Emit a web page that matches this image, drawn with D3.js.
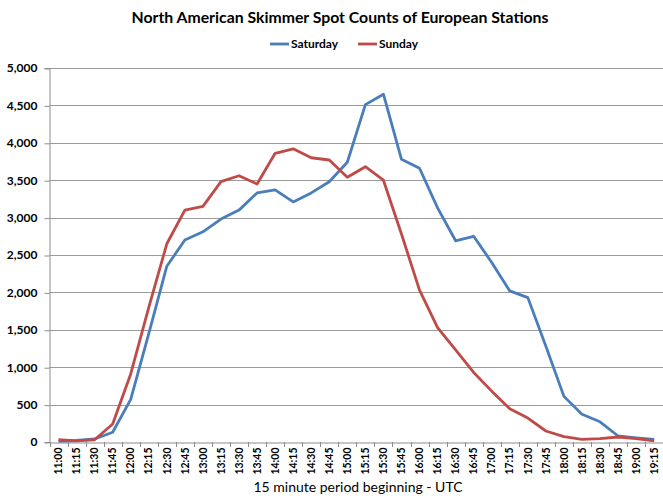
<!DOCTYPE html>
<html lang="en">
<head>
<meta charset="UTF-8">
<title>North American Skimmer Spot Counts of European Stations</title>
<script src="https://d3js.org/d3.v7.min.js"></script>
<style>
  body { margin: 0; background: #fff; }
  text { font-family: Lato, "Open Sans", sans-serif; fill: #000; }
</style>
</head>
<body>
<script>
// data
const times = ["11:00","11:15","11:30","11:45","12:00","12:15","12:30","12:45","13:00","13:15","13:30","13:45",
  "14:00","14:15","14:30","14:45","15:00","15:15","15:30","15:45","16:00","16:15","16:30","16:45",
  "17:00","17:15","17:30","17:45","18:00","18:15","18:30","18:45","19:00","19:15"];
const saturday = [10, 20, 40, 130, 570, 1450, 2350, 2700, 2810, 2980, 3100, 3330,
  3370, 3210, 3330, 3480, 3740, 4510, 4650, 3780, 3660, 3130, 2690, 2750,
  2400, 2020, 1930, 1280, 610, 370, 270, 80, 55, 35];
const sunday = [30, 15, 30, 240, 910, 1800, 2650, 3100, 3150, 3480, 3560, 3450,
  3860, 3920, 3800, 3770, 3540, 3680, 3500, 2780, 2030, 1530, 1230, 930,
  680, 445, 320, 147, 71, 36, 44, 67, 44, 15];
const yTicks = [0, 500, 1000, 1500, 2000, 2500, 3000, 3500, 4000, 4500, 5000];

const width = 663, height = 496;
const plotLeft = 49.5, plotTop = 68, plotBottom = 442;
const band = 18.05;

const svg = d3.select("body").append("svg")
  .attr("width", width)
  .attr("height", height);

const x = d3.scaleBand().domain(times).range([plotLeft, plotLeft + band * times.length]).padding(0);
const y = d3.scaleLinear().domain([0, 5000]).range([plotBottom, plotTop]);

// gridlines
svg.append("g").selectAll("line")
  .data(yTicks.slice(1))
  .enter().append("line")
  .attr("x1", plotLeft).attr("x2", width)
  .attr("y1", d => Math.round(y(d)) + 0.5).attr("y2", d => Math.round(y(d)) + 0.5)
  .attr("stroke", "#9a9a9a").attr("stroke-width", 1);

// y axis
const yAxis = svg.append("g")
  .attr("transform", "translate(" + plotLeft + ",0)")
  .call(d3.axisLeft(y).tickValues(yTicks).tickFormat(d3.format(",")).tickSize(5).tickPadding(7));
yAxis.select(".domain").attr("stroke", "#8c8c8c");
yAxis.selectAll(".tick line").attr("stroke", "#8c8c8c").attr("transform", "translate(0,0.5)");
yAxis.selectAll("text").style("font-size", "12px").style("font-weight", "bold").attr("font-family", null);

// x axis
const xAxis = svg.append("g")
  .attr("transform", "translate(0," + (plotBottom + 0.5) + ")")
  .call(d3.axisBottom(x).tickSize(0).tickSizeOuter(0));
xAxis.select(".domain").attr("stroke", "#8c8c8c");
xAxis.selectAll(".tick line").remove();
xAxis.selectAll("text")
  .attr("transform", "rotate(-90)")
  .attr("x", -5).attr("y", 0).attr("dy", "0.35em")
  .style("text-anchor", "end")
  .style("font-size", "10.5px")
  .style("font-weight", "bold")
  .attr("font-family", null);
// tick marks between categories
svg.append("g").selectAll("line")
  .data(times)
  .enter().append("line")
  .attr("x1", d => Math.round(x(d)) + 0.5).attr("x2", d => Math.round(x(d)) + 0.5)
  .attr("y1", plotBottom).attr("y2", plotBottom + 5)
  .attr("stroke", "#8c8c8c");

// lines
const line = d3.line()
  .x((d, i) => x(times[i]) + x.bandwidth() / 2)
  .y(d => y(d));

svg.append("path").datum(saturday)
  .attr("d", line).attr("fill", "none")
  .attr("stroke", "#4a7ebb").attr("stroke-width", 2.8).attr("stroke-linejoin", "round");
svg.append("path").datum(sunday)
  .attr("d", line).attr("fill", "none")
  .attr("stroke", "#be4b48").attr("stroke-width", 2.8).attr("stroke-linejoin", "round");

// title
svg.append("text")
  .attr("x", 340).attr("y", 23)
  .attr("text-anchor", "middle")
  .style("font-size", "15.8px").style("font-weight", "bold")
  .text("North American Skimmer Spot Counts of European Stations");

// legend
const legend = [{ name: "Saturday", color: "#4a7ebb", x: 270 }, { name: "Sunday", color: "#be4b48", x: 358 }];
const lg = svg.selectAll(".legend").data(legend).enter().append("g").attr("class", "legend");
lg.append("line")
  .attr("x1", d => d.x).attr("x2", d => d.x + 19)
  .attr("y1", 44).attr("y2", 44)
  .attr("stroke", d => d.color).attr("stroke-width", 2.8);
lg.append("text")
  .attr("x", d => d.x + 21).attr("y", 48)
  .style("font-size", "12px").style("font-weight", "bold")
  .text(d => d.name);

// x axis title
svg.append("text")
  .attr("x", 358).attr("y", 492)
  .attr("text-anchor", "middle")
  .style("font-size", "14px")
  .text("15 minute period beginning - UTC");
</script>
</body>
</html>
